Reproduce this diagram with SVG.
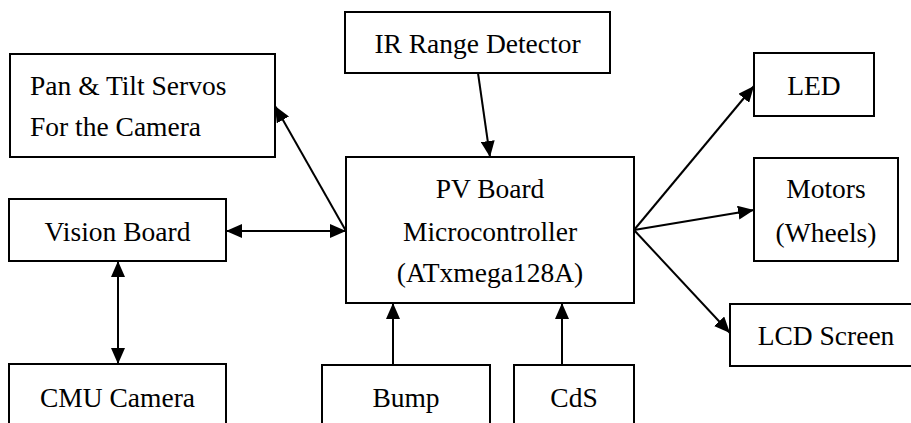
<svg xmlns="http://www.w3.org/2000/svg" width="911" height="423" viewBox="0 0 911 423">
<style>
.box{fill:#fff;stroke:#000;stroke-width:2}
.t{font-family:"Liberation Serif","Times New Roman",serif;font-size:27.5px;fill:#000;text-anchor:middle}
.tl{text-anchor:start}
.c{stroke:#000;stroke-width:2;fill:none}
</style>
<defs>
<marker id="ah" markerUnits="userSpaceOnUse" markerWidth="17" markerHeight="14" refX="16" refY="7" orient="auto-start-reverse">
<path d="M0,0 L16,7 L0,14 z" fill="#000"/>
</marker>
</defs>
<rect width="911" height="423" fill="#fff"/>
<g id="connectors">
<line class="c" x1="478" y1="73" x2="490" y2="157" marker-end="url(#ah)"/>
<line class="c" x1="346" y1="231" x2="275" y2="106" marker-end="url(#ah)"/>
<line class="c" x1="226" y1="231" x2="346" y2="231" marker-start="url(#ah)" marker-end="url(#ah)"/>
<line class="c" x1="118" y1="261" x2="118" y2="364" marker-start="url(#ah)" marker-end="url(#ah)"/>
<line class="c" x1="634" y1="230" x2="754" y2="86" marker-end="url(#ah)"/>
<line class="c" x1="634" y1="230" x2="754" y2="210" marker-end="url(#ah)"/>
<line class="c" x1="634" y1="230" x2="730" y2="333" marker-end="url(#ah)"/>
<line class="c" x1="393" y1="365" x2="393" y2="303" marker-end="url(#ah)"/>
<line class="c" x1="562" y1="365" x2="562" y2="303" marker-end="url(#ah)"/>
</g>
<g id="pan">
<rect class="box" x="10" y="54" width="265" height="103"/>
<text class="t tl" x="30" y="95">Pan &amp; Tilt Servos</text>
<text class="t tl" x="30" y="136">For the Camera</text>
</g>
<g id="ir">
<rect class="box" x="345" y="12" width="265" height="61"/>
<text class="t" x="477.5" y="53">IR Range Detector</text>
</g>
<g id="led">
<rect class="box" x="754" y="53" width="120" height="63"/>
<text class="t" x="814" y="95">LED</text>
</g>
<g id="vision">
<rect class="box" x="9" y="199" width="217" height="62"/>
<text class="t" x="117.5" y="241">Vision Board</text>
</g>
<g id="pv">
<rect class="box" x="346" y="157" width="288" height="146"/>
<text class="t" x="490" y="198">PV Board</text>
<text class="t" x="490" y="241">Microcontroller</text>
<text class="t" x="490" y="282">(ATxmega128A)</text>
</g>
<g id="motors">
<rect class="box" x="754" y="158" width="144" height="103"/>
<text class="t" x="826" y="198">Motors</text>
<text class="t" x="826" y="242">(Wheels)</text>
</g>
<g id="lcd">
<rect class="box" x="730" y="304" width="200" height="62"/>
<text class="t" x="826" y="345">LCD Screen</text>
</g>
<g id="cmu">
<rect class="box" x="9" y="364" width="217" height="70"/>
<text class="t" x="117.5" y="407">CMU Camera</text>
</g>
<g id="bump">
<rect class="box" x="322" y="365" width="168" height="70"/>
<text class="t" x="406" y="407">Bump</text>
</g>
<g id="cds">
<rect class="box" x="514" y="365" width="120" height="70"/>
<text class="t" x="574" y="407">CdS</text>
</g>
</svg>
